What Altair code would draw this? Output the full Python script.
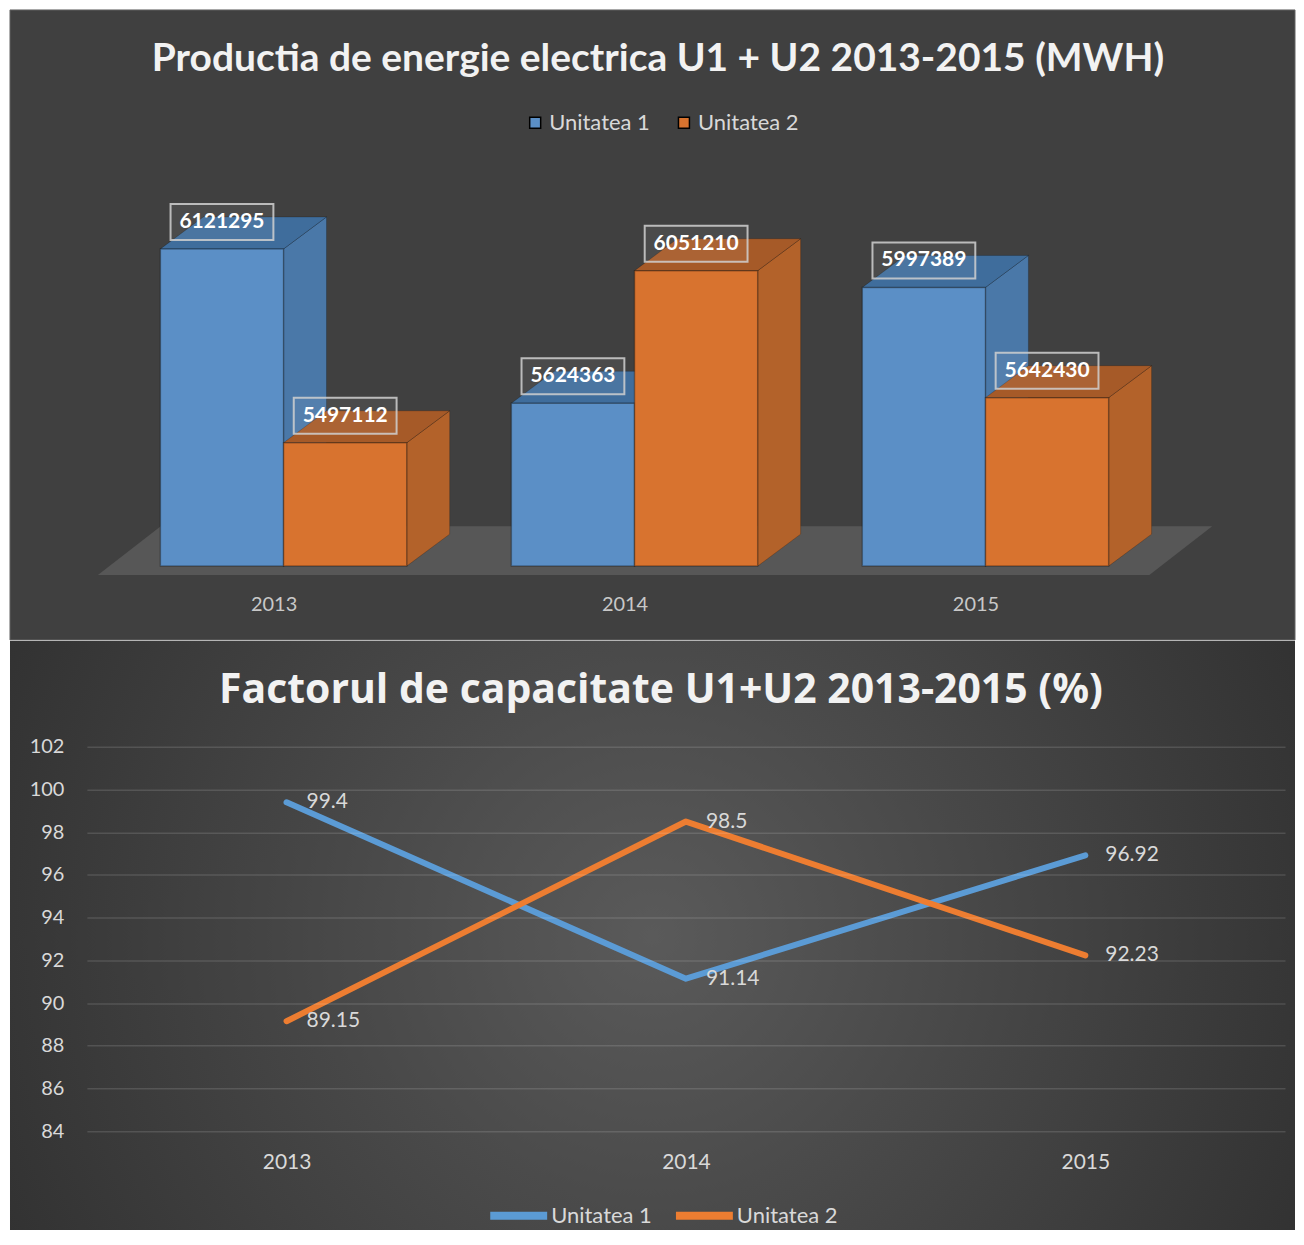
import altair as alt
import pandas as pd

# ---------------- data ----------------
years = ["2013", "2014", "2015"]
series = ["Unitatea 1", "Unitatea 2"]
prod_u1 = [6121295, 5624363, 5997389]
prod_u2 = [5497112, 6051210, 5642430]
cap_u1 = [99.4, 91.14, 96.92]
cap_u2 = [89.15, 98.5, 92.23]
cap_ticks = [84, 86, 88, 90, 92, 94, 96, 98, 100, 102]
title_top = "Productia de energie electrica U1 + U2 2013-2015 (MWH)"
title_bottom = "Factorul de capacitate U1+U2 2013-2015 (%)"

# ---------------- style / layout ----------------
FONT = "Lato"
TXT = "#d9d9d9"
W = 1287          # panel width
H1 = 631          # top panel height
H2 = 590          # bottom panel height
BASE = 5100000    # value axis minimum of the 3D chart
UPX = 3215        # MWh per pixel on the value axis
BW = 0.351        # bar width (category units)
DX = 0.1223       # depth offset (category units)
DV = 32 * UPX     # depth offset (value units)

front_col = ["#5b8fc6", "#d8732f"]
side_col = {"Unitatea 1": "#4a78a8", "Unitatea 2": "#b3622a"}
top_col = {"Unitatea 1": "#3f6d9c", "Unitatea 2": "#a65a28"}

# ---------------- top chart tables ----------------
rows = []
for i, yr in enumerate(years):
    for s, vals in zip(series, [prod_u1, prod_u2]):
        v = vals[i]
        xl = i - BW if s == series[0] else i
        rows.append(dict(year=yr, series=s, value=v, xl=xl, xr=xl + BW,
                         xc=xl + BW / 2, base=BASE, label=str(v), id=f"{yr}-{s}"))
bars = pd.DataFrame(rows)

side_rows, top_rows = [], []
for r in bars.itertuples():
    side_rows.append(dict(id=r.id, x=r.xr, y=r.value, y2=r.base, fill=side_col[r.series]))
    side_rows.append(dict(id=r.id, x=r.xr + DX, y=r.value + DV, y2=r.base + DV, fill=side_col[r.series]))
    top_rows.append(dict(id=r.id, y=r.value, x=r.xl, x2=r.xr, fill=top_col[r.series]))
    top_rows.append(dict(id=r.id, y=r.value + DV, x=r.xl + DX, x2=r.xr + DX, fill=top_col[r.series]))
side_df = pd.DataFrame(side_rows)
top_df = pd.DataFrame(top_rows)

floor_df = pd.DataFrame({
    "y": [BASE - 9 * UPX, BASE + 40 * UPX],
    "x": [-0.529, -0.529 + 0.179],
    "x2": [2.467, 2.467 + 0.179],
})

one = pd.DataFrame({"k": [0]})

xs = alt.Scale(domain=[0, 2], range=[274, 977], nice=False, zero=False)
ys = alt.Scale(domain=[BASE, BASE + 557 * UPX], range=[557, 0], nice=False, zero=False)

year_expr = "[" + ",".join(f"'{y}'" for y in years) + "][datum.value]"
yr_axis = alt.Axis(values=[0, 1, 2], labelExpr=year_expr, orient="bottom", offset=-48,
                   domain=False, ticks=False, grid=False, labelPadding=2, labelFont=FONT,
                   labelFontSize=20, labelColor="#c8c8c8", labelOffset=-10, labelFlush=False,
                   labelOverlap=False, title=None, zindex=1)


def X1(field):
    return alt.X(field, type="quantitative", scale=xs, axis=yr_axis)


def Y1(field):
    return alt.Y(field, type="quantitative", scale=ys, axis=None)


bg1 = alt.Chart(one).mark_rect(fill="#404040", stroke="#626262", strokeWidth=1).encode(
    x=alt.value(0), x2=alt.value(W), y=alt.value(0), y2=alt.value(H1))

floor_l = alt.Chart(floor_df).mark_area(orient="horizontal", color="#575757").encode(
    y=Y1("y"), x=X1("x"), x2="x2:Q")

side_l = alt.Chart(side_df).mark_area(strokeWidth=1, stroke="#000000", strokeOpacity=0.2).encode(
    x=X1("x"), y=Y1("y"), y2="y2:Q",
    detail="id:N", fill=alt.Fill("fill:N", scale=None))

top_l = alt.Chart(top_df).mark_area(orient="horizontal", strokeWidth=1, stroke="#000000",
                                    strokeOpacity=0.2).encode(
    y=Y1("y"), x=X1("x"), x2="x2:Q",
    detail="id:N", fill=alt.Fill("fill:N", scale=None))

front_l = alt.Chart(bars).mark_rect(stroke="#000000", strokeOpacity=0.3, strokeWidth=1.5).encode(
    x=X1("xl"), x2="xr:Q",
    y=Y1("value"), y2="base:Q",
    color=alt.Color("series:N", scale=alt.Scale(domain=series, range=front_col),
                    legend=alt.Legend(orient="none", legendX=515, legendY=102,
                                      direction="horizontal", title=None, symbolType="square",
                                      symbolSize=121, labelFont=FONT, labelFontSize=22,
                                      labelColor=TXT, labelOffset=3, columnPadding=23,
                                      padding=0)))

box_l = alt.Chart(bars).mark_point(
    shape="M-1,-0.35L1,-0.35L1,0.35L-1,0.35Z", size=103 * 103, filled=True,
    fill="#ffffff", fillOpacity=0.06, stroke="#d0d0d0", strokeOpacity=0.85,
    strokeWidth=2, opacity=1, yOffset=-27).encode(
    x=X1("xc"), y=Y1("value"))

lbl_l = alt.Chart(bars).mark_text(font=FONT, fontSize=21, fontWeight="bold", color="#ffffff",
                                  baseline="middle", align="center", dy=-27).encode(
    x=X1("xc"), y=Y1("value"), text="label:N")

t1 = alt.Chart(pd.DataFrame({"t": [title_top]})).mark_text(
    font=FONT, fontSize=39, fontWeight="bold", color="#f2f2f2",
    align="center", baseline="middle").encode(
    x=alt.value(649), y=alt.value(49), text="t:N")

top_chart = alt.layer(bg1, floor_l, side_l, top_l, front_l, box_l, lbl_l, t1).properties(
    width=W, height=H1)

# ---------------- bottom chart ----------------
cap_rows = []
for s, vals in zip(series, [cap_u1, cap_u2]):
    for yr, v in zip(years, vals):
        cap_rows.append(dict(year=yr, series=s, value=v, label=f"{v:g}"))
cap = pd.DataFrame(cap_rows)

xs2 = alt.Scale(domain=years, range=[77, 1277], padding=0.5)
ys2 = alt.Scale(domain=[84, 102], range=[491, 106], nice=False, zero=False)

x2_axis = alt.Axis(orient="bottom", offset=491 - H2, domain=False, ticks=False,
                   labelPadding=20, labelFont=FONT, labelFontSize=21, labelColor=TXT,
                   labelAngle=0, title=None, grid=False, zindex=1)
y2_axis = alt.Axis(orient="left", offset=-77, values=cap_ticks, domain=False,
                   ticks=False, labelPadding=23, grid=True, gridColor="#ffffff",
                   gridOpacity=0.13, gridWidth=1.5, labelFont=FONT, labelFontSize=20,
                   labelColor=TXT, title=None, zindex=1)

grad = {"gradient": "radial",
        "stops": [{"color": "#5a5a5a", "offset": 0}, {"color": "#262626", "offset": 1}],
        "x1": 0.5, "y1": 0.5, "r1": 0, "x2": 0.5, "y2": 0.5, "r2": 0.72}

bg2 = alt.Chart(one).mark_rect(fill=grad).encode(
    x=alt.value(0), x2=alt.value(W), y=alt.value(0), y2=alt.value(H2))

lines = alt.Chart(cap).mark_line(strokeWidth=6, strokeCap="round", strokeJoin="round").encode(
    x=alt.X("year:N", scale=xs2, sort=years, axis=x2_axis),
    y=alt.Y("value:Q", scale=ys2, axis=y2_axis),
    color=alt.Color("series:N", scale=alt.Scale(domain=series, range=["#5b9bd5", "#ed7d31"]),
                    legend=alt.Legend(orient="none", legendX=477, legendY=543,
                                      direction="horizontal", title=None, symbolType="stroke",
                                      symbolSize=3249, symbolStrokeWidth=8, labelOffset=0,
                                      columnPadding=8, labelFont=FONT, labelFontSize=22,
                                      labelColor=TXT, padding=0)))

dl = alt.Chart(cap).mark_text(align="left", baseline="middle", dx=20, font=FONT,
                              fontSize=21, color=TXT).encode(
    x=alt.X("year:N", scale=xs2, sort=years, axis=x2_axis),
    y=alt.Y("value:Q", scale=ys2, axis=y2_axis),
    text="label:N")

t2 = alt.Chart(pd.DataFrame({"t": [title_bottom]})).mark_text(
    font="Open Sans", fontSize=41, fontWeight="bold", color="#f2f2f2",
    align="center", baseline="middle").encode(
    x=alt.value(652), y=alt.value(50), text="t:N")

bottom_chart = alt.layer(bg2, lines, dl, t2).properties(width=W, height=H2)

chart = alt.vconcat(top_chart, bottom_chart, spacing=0).resolve_scale(
    color="independent", x="independent", y="independent"
).properties(
    padding={"left": 1, "top": 0, "right": 0, "bottom": 0},
    background="#ffffff"
).configure_view(strokeWidth=0)

chart.save("out.html", embed_options={"renderer": "svg", "actions": False})
